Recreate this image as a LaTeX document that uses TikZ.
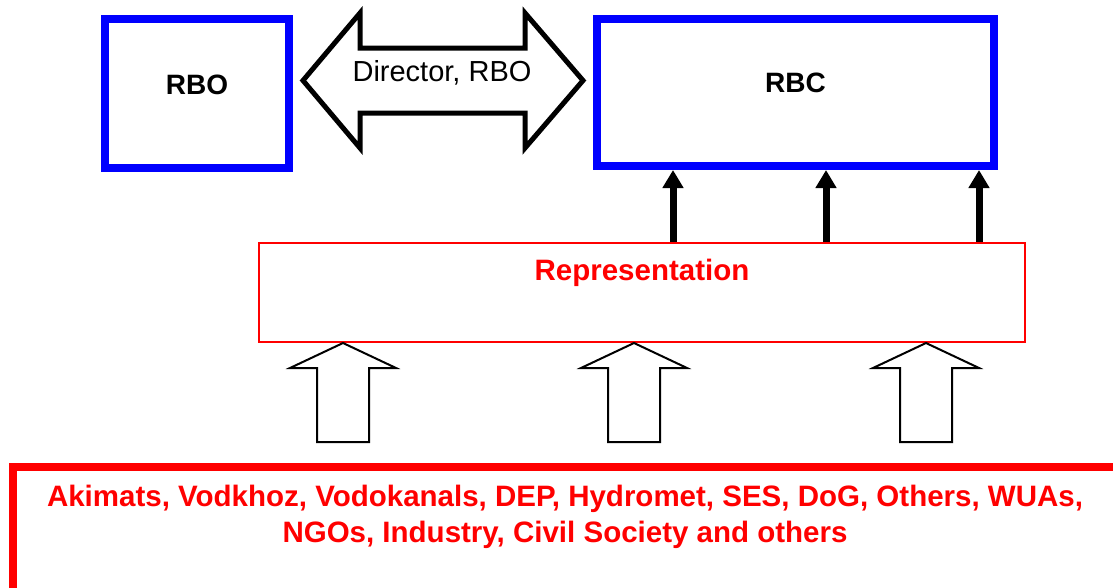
\documentclass[tikz,border=0pt]{standalone}
\usepackage{fontspec}
\setmainfont{Liberation Sans}
\usetikzlibrary{arrows.meta}
\definecolor{boxblue}{RGB}{0,0,255}
\definecolor{boxred}{RGB}{255,0,0}
\tikzset{
  bluebox/.style={draw=boxblue,line width=8pt,inner sep=0pt},
  redbox/.style={draw=boxred,inner sep=0pt},
  bigtext/.style={font=\fontsize{28}{34}\selectfont\bfseries},
  redtext/.style={text=boxred,font=\fontsize{29.5}{36}\selectfont\bfseries,align=center},
  blackup/.style={line width=7pt,-{Triangle[length=18pt,width=20pt]}},
  hollowup/.style={draw=black,fill=white,line width=2pt}
}
\begin{document}
\begin{tikzpicture}[x=1pt,y=-1pt]
\useasboundingbox (0,0) rectangle (1113,587);
\clip (0,0) rectangle (1113,587);
\node[bluebox,minimum width=184pt,minimum height=149pt] (rbo) at (197,93.5) {};
\node[bigtext] at ([yshift=9pt]rbo.center) {RBO};
\node[bluebox,minimum width=397pt,minimum height=147pt] (rbc) at (795.5,92.5) {};
\node[bigtext] at ([yshift=9.5pt]rbc.center) {RBC};
\draw[line width=5pt] (303,80.5) -- (360,13) -- (360,48) -- (525,48) -- (525,13) -- (583,80.5)
  -- (525,148) -- (525,113) -- (360,113) -- (360,148) -- cycle;
\node[font=\fontsize{29}{35}\selectfont] (dir) at (442,73) {Director, RBO};
\node[redbox,line width=2pt,minimum width=766pt,minimum height=99pt] (rep) at (642,292.5) {};
\node[redtext] at ([yshift=20pt]rep.center) {Representation};
\foreach \x in {673,826,979}{
  \coordinate (c\x) at (\x,0);
  \draw[blackup] (c\x |- rep.north) -- (c\x |- rbc.south);
}
\foreach \x in {343,634,926}
  \draw[hollowup] (\x,343) -- ++(53,25) -- ++(-27,0) -- ++(0,74) -- ++(-52,0) -- ++(0,-74) -- ++(-27,0) -- cycle;
\node[redbox,line width=8pt,minimum width=1127pt,minimum height=153pt] (orgs) at (576.5,543.5) {};
\node[redtext] at (565,516.5) {Akimats, Vodkhoz, Vodokanals, DEP, Hydromet, SES, DoG, Others, WUAs,\\NGOs, Industry, Civil Society and others};
\end{tikzpicture}
\end{document}
